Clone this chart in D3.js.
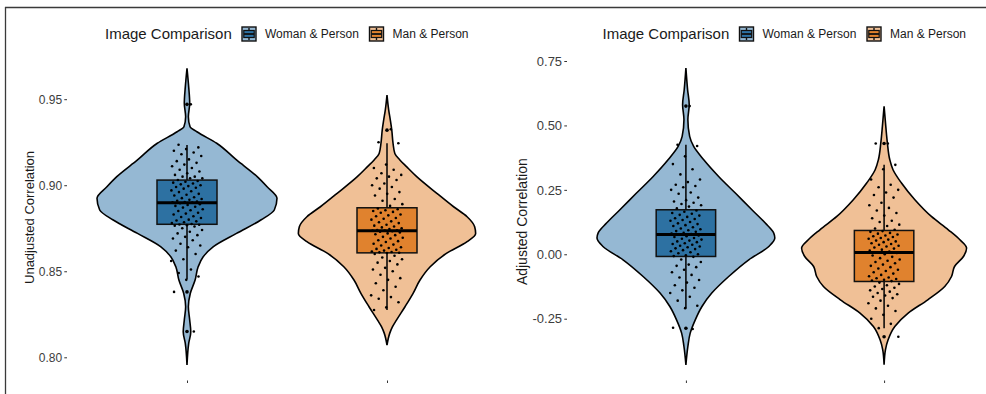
<!DOCTYPE html>
<html>
<head>
<meta charset="utf-8">
<script src="https://cdn.jsdelivr.net/npm/d3@7"></script>
<style>
  body { margin: 0; background: #fff; }
  svg { display: block; }
</style>
</head>
<body>
<div id="chart"></div>
<script>
const categories = ["Woman & Person", "Man & Person"];
const legendTitle = "Image Comparison";
const unadjTicks = [0.80, 0.85, 0.90, 0.95];
const adjTicks = [-0.25, 0.00, 0.25, 0.50, 0.75];

// violin outlines: [value, relative half width]
const unadjWomanViolin = [[0.968,0],[0.957,0.019],[0.9476,0.03],[0.9398,0.015],[0.934,0.034],[0.9311,0.11],[0.9244,0.33],[0.9147,0.55],[0.905,0.78],[0.8991,0.89],[0.8924,1.0],[0.8856,0.97],[0.8798,0.82],[0.872,0.55],[0.8642,0.29],[0.8584,0.18],[0.8526,0.124],[0.8449,0.09],[0.8372,0.037],[0.8294,0.015],[0.8216,0.03],[0.8148,0.042],[0.8081,0.019],[0.7955,0]];
const unadjManViolin = [[0.9524,0],[0.9437,0.019],[0.9379,0.037],[0.9321,0.053],[0.9244,0.067],[0.9185,0.087],[0.9147,0.143],[0.9108,0.217],[0.905,0.33],[0.8953,0.554],[0.8875,0.74],[0.8817,0.89],[0.8759,0.974],[0.872,0.985],[0.8672,0.89],[0.8604,0.66],[0.8526,0.48],[0.8449,0.367],[0.8372,0.29],[0.8294,0.2],[0.8216,0.105],[0.8177,0.06],[0.8139,0.03],[0.8071,0]];
const adjWomanViolin = [[0.7228,0],[0.6386,0.019],[0.5804,0.037],[0.5222,0.022],[0.4574,0.042],[0.4185,0.087],[0.3668,0.2],[0.302,0.367],[0.2376,0.554],[0.1727,0.74],[0.1211,0.89],[0.0823,0.985],[0.0629,0.997],[0.0303,0.93],[-0.0214,0.705],[-0.0862,0.48],[-0.1506,0.29],[-0.2026,0.18],[-0.2543,0.105],[-0.3059,0.048],[-0.3579,0.022],[-0.429,0]];
const adjManViolin = [[0.5738,0],[0.4961,0.019],[0.4317,0.037],[0.3668,0.064],[0.328,0.1],[0.2764,0.195],[0.2116,0.345],[0.1467,0.53],[0.0951,0.72],[0.0563,0.85],[0.0241,0.925],[-0.0085,0.89],[-0.0474,0.79],[-0.0862,0.756],[-0.125,0.68],[-0.1766,0.49],[-0.2283,0.27],[-0.2803,0.12],[-0.3319,0.045],[-0.3707,0.015],[-0.429,0]];

// box stats: [lower whisker, q1, median, q3, upper whisker]
const unadjWomanBox = [0.8453, 0.8773, 0.8898, 0.9030, 0.9234];
const unadjManBox = [0.8275, 0.8607, 0.8735, 0.8869, 0.9244];
const adjWomanBox = [-0.209, -0.0085, 0.0769, 0.1727, 0.425];
const adjManBox = [-0.2866, -0.1056, 0.007, 0.0924, 0.347];

const unadjWomanOutliers = [0.947, 0.838, 0.815];
const unadjManOutliers = [0.932];
const adjWomanOutliers = [0.575, -0.287];
const adjManOutliers = [0.43, -0.32];

const unadjWomanPoints = [0.947, 0.9235, 0.922, 0.921, 0.920, 0.919, 0.918, 0.917, 0.915, 0.914, 0.913, 0.912, 0.911, 0.910, 0.909, 0.908, 0.907, 0.906, 0.905, 0.905, 0.904, 0.904, 0.903,
  0.9025, 0.902, 0.9015, 0.901, 0.9005, 0.900, 0.8995, 0.899, 0.8985, 0.898, 0.897, 0.8965, 0.896, 0.895, 0.8945, 0.894, 0.893, 0.8925, 0.892, 0.8915, 0.891, 0.8905, 0.8902, 0.8901, 0.8899,
  0.8895, 0.889, 0.8885, 0.888, 0.8875, 0.887, 0.886, 0.8855, 0.885, 0.884, 0.8835, 0.883, 0.882, 0.8815, 0.881, 0.880, 0.8795, 0.879, 0.8785, 0.878, 0.8775, 0.8772, 0.877, 0.8768, 0.8765,
  0.876, 0.875, 0.874, 0.873, 0.872, 0.871, 0.870, 0.869, 0.868, 0.866, 0.865, 0.864, 0.862, 0.860, 0.857, 0.856, 0.851, 0.849, 0.847, 0.845, 0.838, 0.815];
const unadjManPoints = [0.9325, 0.925, 0.9244, 0.912, 0.910, 0.909, 0.907, 0.906, 0.905, 0.904, 0.903, 0.901, 0.900, 0.899, 0.898, 0.896, 0.895, 0.894, 0.892, 0.891, 0.889, 0.888,
  0.8865, 0.886, 0.8855, 0.885, 0.8845, 0.884, 0.883, 0.8825, 0.882, 0.881, 0.8805, 0.880, 0.879, 0.8785, 0.878, 0.877, 0.8765, 0.876, 0.8755, 0.875, 0.8745, 0.874, 0.8738, 0.8737, 0.8736,
  0.8733, 0.873, 0.8725, 0.872, 0.8715, 0.871, 0.870, 0.8695, 0.869, 0.868, 0.8675, 0.867, 0.866, 0.8655, 0.865, 0.864, 0.8635, 0.863, 0.8625, 0.862, 0.8615, 0.8612, 0.861, 0.8608, 0.8606,
  0.860, 0.859, 0.858, 0.857, 0.856, 0.855, 0.854, 0.852, 0.851, 0.850, 0.848, 0.846, 0.845, 0.843, 0.841, 0.839, 0.836, 0.835, 0.834, 0.832, 0.829, 0.8275];
const adjWomanPoints = [0.575, 0.425, 0.42, 0.38, 0.35, 0.33, 0.31, 0.29, 0.28, 0.27, 0.265, 0.26, 0.25, 0.24, 0.235, 0.22, 0.21, 0.205, 0.20, 0.195, 0.19, 0.185, 0.178,
  0.17, 0.165, 0.16, 0.157, 0.153, 0.15, 0.145, 0.14, 0.137, 0.133, 0.13, 0.125, 0.12, 0.117, 0.113, 0.11, 0.105, 0.1, 0.097, 0.093, 0.09, 0.087, 0.083, 0.08, 0.078,
  0.076, 0.073, 0.07, 0.067, 0.063, 0.06, 0.057, 0.053, 0.05, 0.047, 0.043, 0.04, 0.037, 0.033, 0.03, 0.027, 0.023, 0.02, 0.016, 0.012, 0.008, 0.004, 0.0, -0.004, -0.007,
  -0.01, -0.02, -0.03, -0.04, -0.045, -0.05, -0.06, -0.07, -0.08, -0.09, -0.1, -0.11, -0.12, -0.13, -0.14, -0.15, -0.165, -0.18, -0.2, -0.209, -0.285, -0.29];
const adjManPoints = [0.43, 0.43, 0.347, 0.33, 0.29, 0.27, 0.26, 0.25, 0.24, 0.23, 0.22, 0.2, 0.19, 0.18, 0.17, 0.16, 0.15, 0.14, 0.13, 0.125, 0.115, 0.11, 0.1, 0.095,
  0.09, 0.087, 0.083, 0.08, 0.077, 0.073, 0.07, 0.067, 0.063, 0.06, 0.057, 0.053, 0.05, 0.047, 0.043, 0.04, 0.037, 0.033, 0.03, 0.026, 0.022, 0.018, 0.014, 0.011, 0.008,
  0.005, 0.0, -0.005, -0.01, -0.015, -0.02, -0.025, -0.03, -0.035, -0.04, -0.045, -0.05, -0.055, -0.06, -0.065, -0.07, -0.075, -0.08, -0.085, -0.09, -0.093, -0.096, -0.099, -0.102, -0.104,
  -0.11, -0.115, -0.12, -0.125, -0.13, -0.135, -0.14, -0.145, -0.15, -0.155, -0.16, -0.165, -0.17, -0.18, -0.19, -0.2, -0.21, -0.22, -0.235, -0.25, -0.27, -0.2866, -0.32];

const violinFill = ["#95b8d3", "#f0c096"];
const boxFill = ["#2d71a2", "#e0822e"];
const font = "'Liberation Sans', Arial, Helvetica, sans-serif";

const width = 986, height = 394;
const svg = d3.select("#chart").append("svg")
  .attr("width", width)
  .attr("height", height);

/* frame lines (top and left) */
svg.append("line").attr("x1", 5).attr("x2", width).attr("y1", 7.5).attr("y2", 7.5)
  .attr("stroke", "#3a3a3a").attr("stroke-width", 1.3);
svg.append("line").attr("x1", 5.5).attr("x2", 5.5).attr("y1", 7).attr("y2", height)
  .attr("stroke", "#3a3a3a").attr("stroke-width", 1.3);

function drawPanel(p) {
  var x = d3.scaleLinear().domain([0.4, 2.6]).range([p.left, p.right]);
  var y = d3.scaleLinear().domain(p.yDomain).range(p.yRange);
  var unit = x(2) - x(1);
  var w = d3.scaleLinear().domain([0, 1]).range([0, 0.45 * unit]);
  var g = svg.append("g");

  /* y axis */
  var ya = g.append("g")
    .attr("transform", `translate(${p.left},0)`)
    .call(d3.axisLeft(y).tickValues(p.ticks).tickSize(2.7).tickPadding(2.2)
      .tickFormat(d => d.toFixed(2)))
    .attr("font-family", font)
    .attr("font-size", p.tickFont);
  ya.select(".domain").remove();
  ya.selectAll("line").attr("stroke", "#333").attr("stroke-width", 1);
  ya.selectAll("text").attr("fill", "#3d3d3d");

  /* x axis: ticks only, no labels */
  var xa = g.append("g")
    .attr("transform", `translate(0,${p.axisY})`)
    .call(d3.axisBottom(x).tickValues([1, 2]).tickSize(2.5).tickFormat(""));
  xa.select(".domain").remove();
  xa.selectAll("line").attr("stroke", "#333");

  /* y title */
  g.append("text")
    .attr("transform", `translate(${p.titleX},${p.titleY}) rotate(-90)`)
    .attr("text-anchor", "middle")
    .attr("dy", "0.35em")
    .attr("font-family", font)
    .attr("font-size", p.titleFont)
    .attr("fill", "#1a1a1a")
    .text(p.title);

  p.groups.forEach(function (grp, k) {
    var cx = x(k + 1);

    /* violin */
    var area = d3.area()
      .curve(d3.curveMonotoneY)
      .y(d => y(d[0]))
      .x0(d => cx - w(d[1]))
      .x1(d => cx + w(d[1]));
    g.append("path")
      .attr("d", area(grp.violin))
      .attr("fill", violinFill[k])
      .attr("stroke", "#000")
      .attr("stroke-width", 1.6);

    /* boxplot */
    var [lo, q1, med, q3, hi] = grp.box;
    var bw = 0.15 * unit;
    g.append("line").attr("x1", cx).attr("x2", cx).attr("y1", y(hi)).attr("y2", y(q3))
      .attr("stroke", "#000").attr("stroke-width", 1.5);
    g.append("line").attr("x1", cx).attr("x2", cx).attr("y1", y(q1)).attr("y2", y(lo))
      .attr("stroke", "#000").attr("stroke-width", 1.5);
    g.append("rect")
      .attr("x", cx - bw).attr("width", 2 * bw)
      .attr("y", y(q3)).attr("height", y(q1) - y(q3))
      .attr("fill", boxFill[k])
      .attr("stroke", "#111")
      .attr("stroke-width", 1.5);
    g.append("line").attr("x1", cx - bw).attr("x2", cx + bw).attr("y1", y(med)).attr("y2", y(med))
      .attr("stroke", "#000").attr("stroke-width", 3);

    g.selectAll(null)
      .data(grp.outliers)
      .join("circle")
      .attr("cx", cx)
      .attr("cy", d => y(d))
      .attr("r", 1.8)
      .attr("fill", "#000");

    /* jittered points */
    g.selectAll(null)
      .data(grp.points)
      .join("circle")
      .attr("cx", (d, i) => cx + (((i + 1) * 0.618034) % 1 * 2 - 1) * 0.08 * unit)
      .attr("cy", d => y(d))
      .attr("r", 1.3)
      .attr("fill", "#000");
  });

  /* legend */
  var lg = g.append("g").attr("font-family", font);
  lg.append("text")
    .attr("x", p.legendX).attr("y", 39)
    .attr("font-size", 15)
    .attr("fill", "#1a1a1a")
    .text(legendTitle);
  var keyOffsets = [137, 264.5];
  var labelOffsets = [160, 287.5];
  categories.forEach(function (c, k) {
    var kx = p.legendX + keyOffsets[k], ky = 27;
    lg.append("rect").attr("x", kx).attr("y", ky).attr("width", 14).attr("height", 14)
      .attr("fill", violinFill[k]).attr("stroke", "#111").attr("stroke-width", 1.4);
    lg.append("line").attr("x1", kx + 7).attr("x2", kx + 7).attr("y1", ky + 1).attr("y2", ky + 13)
      .attr("stroke", "#111").attr("stroke-width", 1.4);
    lg.append("rect").attr("x", kx + 1.8).attr("y", ky + 3.5).attr("width", 10.4).attr("height", 7)
      .attr("fill", boxFill[k]).attr("stroke", "#111").attr("stroke-width", 1.2);
    lg.append("line").attr("x1", kx + 1.8).attr("x2", kx + 12.2).attr("y1", ky + 7).attr("y2", ky + 7)
      .attr("stroke", "#111").attr("stroke-width", 1.8);
    lg.append("text")
      .attr("x", p.legendX + labelOffsets[k]).attr("y", 38)
      .attr("font-size", 12)
      .attr("fill", "#1a1a1a")
      .text(c);
  });
}

drawPanel({
  left: 67, right: 507,
  yDomain: [0.80, 0.95], yRange: [357.3, 99.2],
  ticks: unadjTicks, tickFont: 12,
  axisY: 380.5,
  title: "Unadjusted Correlation", titleX: 29, titleY: 217.5, titleFont: 13,
  legendX: 105,
  groups: [
    { violin: unadjWomanViolin, box: unadjWomanBox, outliers: unadjWomanOutliers, points: unadjWomanPoints },
    { violin: unadjManViolin, box: unadjManBox, outliers: unadjManOutliers, points: unadjManPoints }
  ]
});

drawPanel({
  left: 567, right: 1003,
  yDomain: [-0.25, 0.75], yRange: [318.7, 61],
  ticks: adjTicks, tickFont: 13,
  axisY: 380.5,
  title: "Adjusted Correlation", titleX: 522.5, titleY: 221.7, titleFont: 14,
  legendX: 602.5,
  groups: [
    { violin: adjWomanViolin, box: adjWomanBox, outliers: adjWomanOutliers, points: adjWomanPoints },
    { violin: adjManViolin, box: adjManBox, outliers: adjManOutliers, points: adjManPoints }
  ]
});
</script>
</body>
</html>
